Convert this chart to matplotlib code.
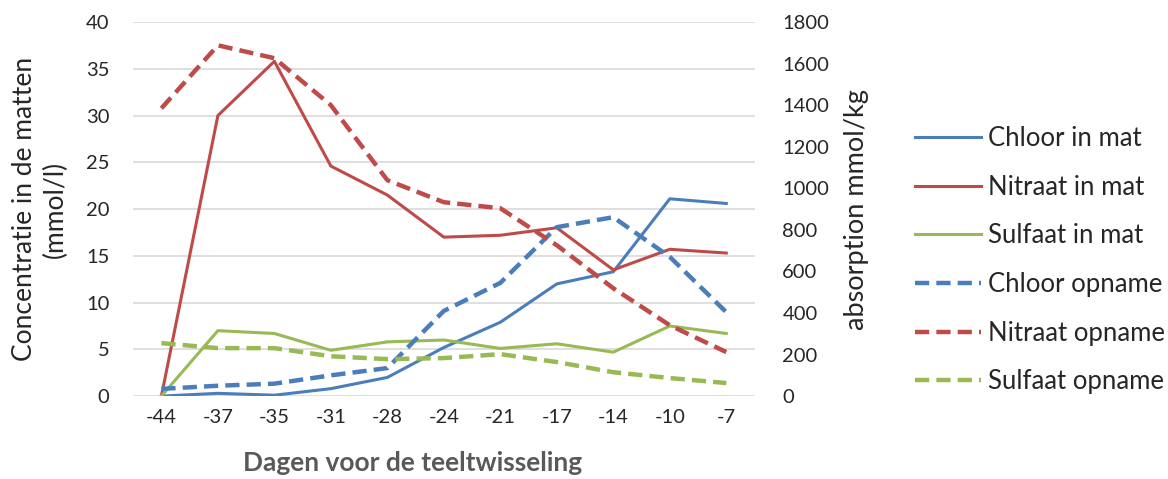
import matplotlib
matplotlib.use('Agg')
import matplotlib.pyplot as plt
import numpy as np

# ── Data ─────────────────────────────────────────────────────────────────────
dagen = ['-44', '-37', '-35', '-31', '-28', '-24', '-21', '-17', '-14', '-10', '-7']

# concentratie in de matten (mmol/l), left axis
chloor_mat  = [0.0, 0.3, 0.1, 0.8, 2.0, 5.2, 7.9, 12.0, 13.3, 21.1, 20.6]
nitraat_mat = [0.0, 30.0, 35.8, 24.6, 21.5, 17.0, 17.2, 18.0, 13.5, 15.7, 15.3]
sulfaat_mat = [0.0, 7.0, 6.7, 4.9, 5.8, 6.0, 5.1, 5.6, 4.7, 7.5, 6.7]

# opname (mmol/kg), right axis
chloor_opn  = [35, 50, 60, 100, 135, 410, 545, 813, 861, 670, 404]
nitraat_opn = [1385, 1688, 1626, 1400, 1039, 933, 904, 726, 519, 341, 212]
sulfaat_opn = [255, 231, 231, 192, 178, 183, 202, 164, 115, 87, 63]

BLUE, RED, GREEN = '#4A7EBB', '#BE4B48', '#98B954'
TXT = '#262626'
FONT = 'Lato'

plt.rcParams['font.family'] = [FONT, 'DejaVu Sans']

fig = plt.figure(figsize=(11.68, 4.79), dpi=100)
ax = fig.add_axes([0.114, 0.173, 0.532, 0.781])
ax2 = ax.twinx()

x = np.arange(len(dagen))

# ── Solid lines: in mat ──────────────────────────────────────────────────────
l1, = ax.plot(x, chloor_mat, color=BLUE, lw=2.2, label='Chloor in mat', zorder=3)
l2, = ax.plot(x, nitraat_mat, color=RED, lw=2.2, label='Nitraat in mat', zorder=3)
l3, = ax.plot(x, sulfaat_mat, color=GREEN, lw=2.2, label='Sulfaat in mat', zorder=3)

# ── Dashed lines: opname ─────────────────────────────────────────────────────
dash = (0, (3.2, 1.6))
l4, = ax2.plot(x, chloor_opn, color=BLUE, lw=3.2, ls=dash, label='Chloor opname')
l5, = ax2.plot(x, nitraat_opn, color=RED, lw=3.2, ls=dash, label='Nitraat opname')
l6, = ax2.plot(x, sulfaat_opn, color=GREEN, lw=3.2, ls=dash, label='Sulfaat opname')

# ── Axes formatting ──────────────────────────────────────────────────────────
ax.set_xlim(-0.5, len(dagen) - 0.5)
ax.set_ylim(0, 40)
ax.set_yticks(range(0, 41, 5))
ax2.set_ylim(0, 1800)
ax2.set_yticks(range(0, 1801, 200))
ax.set_xticks(x)
ax.set_xticklabels(dagen)

ax.grid(axis='y', color='#D9D9D9', lw=1.2, zorder=0)
ax.set_axisbelow(True)
for a in (ax, ax2):
    for s in a.spines.values():
        s.set_visible(False)
    a.tick_params(length=0, labelsize=14.5, colors=TXT)
ax.tick_params(axis='x', pad=9)
ax.tick_params(axis='y', pad=17)
ax2.tick_params(axis='y', pad=20)

ax.set_ylabel('Concentratie in de matten\n(mmol/l)', fontsize=19, color=TXT,
              linespacing=1.25, va='center')
ax.yaxis.set_label_coords(-0.150, 0.5)
ax2.set_ylabel('absorption mmol/kg', fontsize=19.5, color=TXT, va='center')
ax2.yaxis.set_label_coords(1.164, 0.5)
ax.set_xlabel('Dagen voor de teeltwisseling', fontsize=19, color='#595959',
              fontweight='bold', va='center')
ax.xaxis.set_label_coords(0.450, -0.179)

# ── Legend ───────────────────────────────────────────────────────────────────
fig.legend(handles=[l1, l2, l3, l4, l5, l6], loc='upper left',
           bbox_to_anchor=(0.783, 0.737), frameon=False, fontsize=18.5,
           borderpad=0, borderaxespad=0,
           handlelength=2.6, handletextpad=0.25, labelspacing=0.92,
           labelcolor=TXT)

fig.savefig('out.png', dpi=100)
